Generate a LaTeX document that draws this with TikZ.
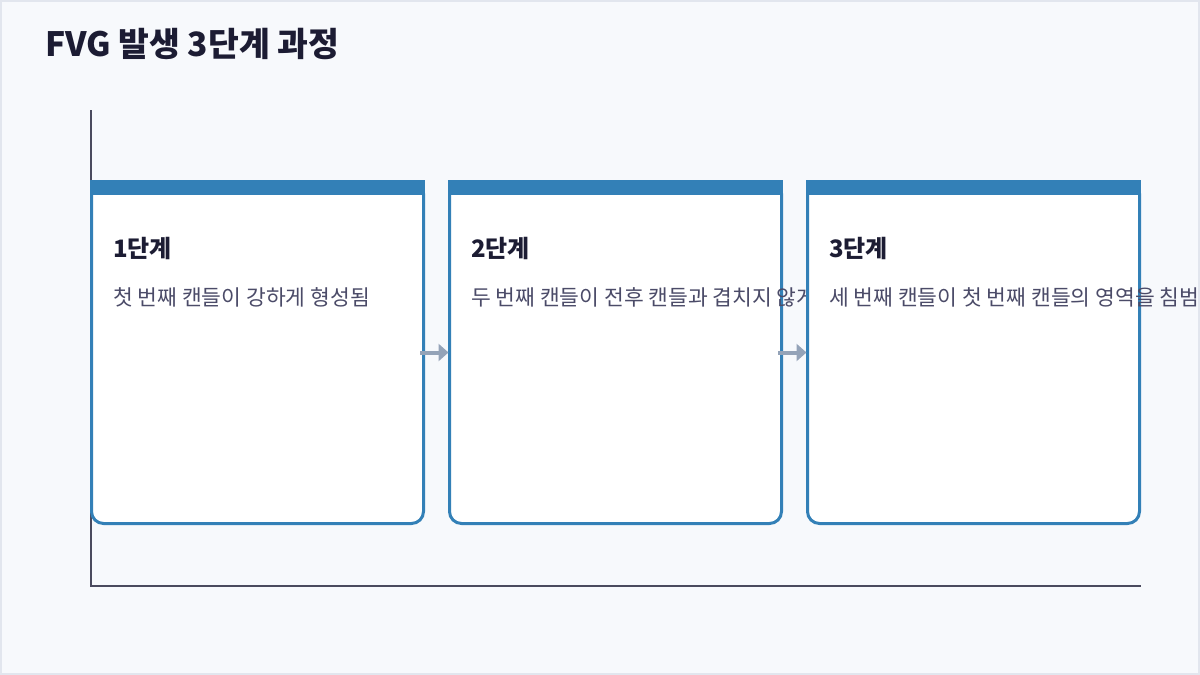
\documentclass[tikz,border=0pt]{standalone}
\usepackage{fontspec}
\setmainfont{Noto Sans CJK KR}
\usetikzlibrary{arrows.meta}
\definecolor{bgcol}{HTML}{F7F9FC}
\definecolor{framecol}{HTML}{E2E6EE}
\definecolor{boxblue}{HTML}{3380B7}
\definecolor{axiscol}{HTML}{4A4A5E}
\definecolor{arrowcol}{HTML}{94A3B8}
\definecolor{titlecol}{HTML}{1C1C33}
\definecolor{desccol}{HTML}{4B4B68}
\tikzset{
  stagebox/.style={rectangle, draw=boxblue, line width=3pt, fill=white, rounded corners=12pt,
    minimum width=332pt, minimum height=342pt, inner sep=0pt, outer sep=0pt},
  stagetitle/.style={anchor=base west, inner sep=0pt, text=titlecol, font=\fontsize{24}{28}\selectfont\bfseries},
  stagedesc/.style={anchor=base west, inner sep=0pt, text=desccol, font=\fontsize{21.5}{26}\selectfont},
  flow/.style={draw=arrowcol, line width=4pt, -{Triangle[length=10pt,width=17pt]}},
  axisline/.style={draw=axiscol, line width=1.5pt}
}
\begin{document}
\begin{tikzpicture}[x=1pt,y=-1pt]
\useasboundingbox (0,0) rectangle (1200,675);
\fill[bgcol] (0,0) rectangle (1200,675);
\draw[framecol, line width=2pt] (1,1) rectangle (1199,674);
\node[anchor=base west, inner sep=0pt, text=titlecol, font=\fontsize{33.5}{40}\selectfont\bfseries] (title) at (45,56) {FVG 발생 3단계 과정};
% axes
\coordinate (ytop) at (91,110);
\coordinate (orig) at (91,586);
\coordinate (xend) at (1141,586);
\draw[axisline] (ytop) -- (orig) -- (xend);
% stage 1
\node[stagebox] (b1) at (257.5,352.5) {};
\fill[boxblue] ([shift={(-1.5pt,1.5pt)}]b1.north west) rectangle ([shift={(1.5pt,-13.5pt)}]b1.north east);
\node[stagetitle] (t1) at (113,257) {1단계};
\node[stagedesc] (d1) at (113,305) {첫 번째 캔들이 강하게 형성됨};
% stage 2
\node[stagebox] (b2) at (615.5,352.5) {};
\fill[boxblue] ([shift={(-1.5pt,1.5pt)}]b2.north west) rectangle ([shift={(1.5pt,-13.5pt)}]b2.north east);
\draw[flow] ([xshift=-3.5pt]b1.east) -- ([xshift=-1pt]b2.west);
\node[stagetitle] (t2) at (471,257) {2단계};
\node[stagedesc] (d2) at (471,305) {두 번째 캔들이 전후 캔들과 겹치지 않게};
% stage 3
\node[stagebox] (b3) at (973.5,352.5) {};
\fill[boxblue] ([shift={(-1.5pt,1.5pt)}]b3.north west) rectangle ([shift={(1.5pt,-13.5pt)}]b3.north east);
\draw[flow] ([xshift=-3.5pt]b2.east) -- ([xshift=-1pt]b3.west);
\node[stagetitle] (t3) at (829,257) {3단계};
\node[stagedesc] (d3) at (829,305) {세 번째 캔들이 첫 번째 캔들의 영역을 침범};
\end{tikzpicture}
\end{document}
